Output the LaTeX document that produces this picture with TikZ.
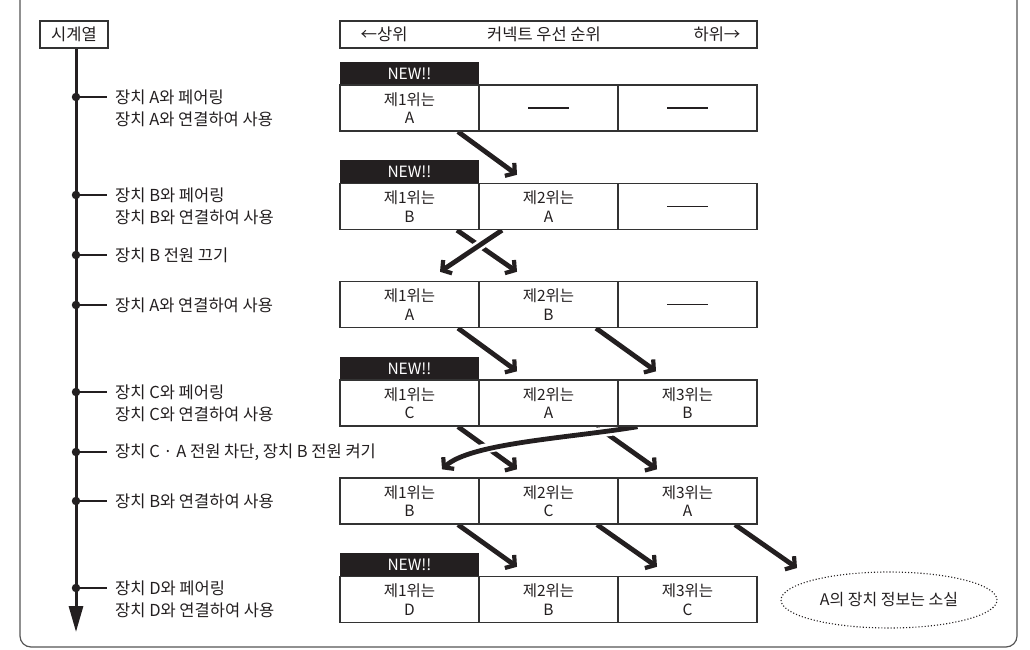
\documentclass[tikz,border=0pt]{standalone}
\usepackage{fontspec}
\setmainfont{Noto Sans CJK KR}
\usetikzlibrary{arrows.meta,shapes.geometric,calc}
\pgfdeclarelayer{bg}
\pgfsetlayers{bg,main}
\definecolor{txt}{HTML}{231F20}
\definecolor{cellc}{HTML}{333333}
\definecolor{framec}{HTML}{555555}
\begin{document}
\begin{tikzpicture}[x=1pt,y=-1pt,
  cell/.style={draw=cellc, fill=white, line width=1.4pt, minimum width=139pt, minimum height=46pt, inner sep=0pt, align=center, text=txt, font=\fontsize{15.5}{18.5}\selectfont},
  newtab/.style={fill=txt, minimum width=139pt, minimum height=23.5pt, inner sep=0pt, text=white, font=\fontsize{15.5}{17}\selectfont},
  lbl/.style={anchor=west, align=left, inner sep=0pt, text=txt, font=\fontsize{16.5}{22}\selectfont},
  hbox/.style={draw=cellc, line width=1.3pt, inner sep=0pt, minimum height=27pt, text=txt, font=\fontsize{16.5}{18}\selectfont},
  htext/.style={text=txt, inner sep=0pt, font=\fontsize{16.5}{18}\selectfont},
  tdot/.style={circle, fill=txt, inner sep=0pt, minimum size=8.5pt},
  tick/.style={draw=txt, line width=1.3pt},
  bigarrow/.style={draw=txt, line width=4.8pt, -{Straight Barb[length=6.5pt,width=16pt,line width=4.2pt]}},
  casing/.style={draw=white, line width=10pt, shorten <=8pt, shorten >=10pt},
  dashbar/.style={draw=txt, line width=1.4pt}
]
\useasboundingbox (0,0) rectangle (1030,650);
\draw[framec, line width=1.2pt, rounded corners=11pt] (20,-30) rectangle (1017,647);

% header boxes
\node[hbox, minimum width=68pt] (tl) at (74,34.5) {시계열};
\node[hbox, minimum width=417pt] (hdr) at (548.5,34.5) {};
\node[htext] (hup) at (384,34.5) {←상위};
\node[htext] (hmid) at (544,34.5) {커넥트 우선 순위};
\node[htext] (hdown) at (717,34.5) {하위→};

% timeline
\coordinate (tlend) at (76,632);
\draw[draw=txt, line width=3pt, -{Triangle[length=26pt,width=14pt]}] (tl.south -| tlend) -- (tlend);

% dots and labels
\node[tdot] (d1) at (76,97) {};
\node[tdot] (d2) at (76,195) {};
\node[tdot] (d3) at (76,255) {};
\node[tdot] (d4) at (76,305) {};
\node[tdot] (d5) at (76,392) {};
\node[tdot] (d6) at (76,452) {};
\node[tdot] (d7) at (76,501) {};
\node[tdot] (d8) at (76,588) {};
\foreach \d in {d1,d2,d3,d4,d5,d6,d7,d8} \draw[tick] (\d.center) -- ++(31,0);

\node[lbl] (l1) at (115,108) {장치 A와 페어링\\장치 A와 연결하여 사용};
\node[lbl] (l2) at (115,206) {장치 B와 페어링\\장치 B와 연결하여 사용};
\node[lbl] (l3) at (115,255) {장치 B 전원 끄기};
\node[lbl] (l4) at (115,305) {장치 A와 연결하여 사용};
\node[lbl] (l5) at (115,403) {장치 C와 페어링\\장치 C와 연결하여 사용};
\node[lbl] (l6) at (115,452) {장치 C · A 전원 차단, 장치 B 전원 켜기};
\node[lbl] (l7) at (115,501) {장치 B와 연결하여 사용};
\node[lbl] (l8) at (115,599) {장치 D와 페어링\\장치 D와 연결하여 사용};

% rows
\node[newtab] (n1) at (409.5,73.5) {NEW!!};
\node[cell] (r1c1) at (409.5,108) {제1위는\\A};
\node[cell] (r1c2) at (548.5,108) {};
\node[cell] (r1c3) at (687.5,108) {};

\node[newtab] (n2) at (409.5,172) {NEW!!};
\node[cell] (r2c1) at (409.5,206.5) {제1위는\\B};
\node[cell] (r2c2) at (548.5,206.5) {제2위는\\A};
\node[cell] (r2c3) at (687.5,206.5) {};

\node[cell] (r3c1) at (409.5,304.5) {제1위는\\A};
\node[cell] (r3c2) at (548.5,304.5) {제2위는\\B};
\node[cell] (r3c3) at (687.5,304.5) {};

\node[newtab] (n4) at (409.5,368.5) {NEW!!};
\node[cell] (r4c1) at (409.5,403) {제1위는\\C};
\node[cell] (r4c2) at (548.5,403) {제2위는\\A};
\node[cell] (r4c3) at (687.5,403) {제3위는\\B};

\node[cell] (r5c1) at (409.5,501) {제1위는\\B};
\node[cell] (r5c2) at (548.5,501) {제2위는\\C};
\node[cell] (r5c3) at (687.5,501) {제3위는\\A};

\node[newtab] (n6) at (409.5,565) {NEW!!};
\node[cell] (r6c1) at (409.5,599.5) {제1위는\\D};
\node[cell] (r6c2) at (548.5,599.5) {제2위는\\B};
\node[cell] (r6c3) at (687.5,599.5) {제3위는\\C};

% empty-cell dashes
\foreach \c in {r1c2,r1c3,r2c3,r3c3}
  \draw[dashbar] ([xshift=-20.5]\c.center) -- ([xshift=20.5]\c.center);

% lost info ellipse
\node[ellipse, draw=txt, line width=1.1pt, dotted, minimum width=216pt, minimum height=56pt, inner sep=0pt, text=txt, font=\fontsize{16}{18}\selectfont] (lost) at (889,600) {A의 장치 정보는 소실};

% arrows
\begin{pgfonlayer}{bg}
\draw[bigarrow] ([xshift=48.5]r1c1.south) -- ([shift={(-31.5,-8)}]r2c2.north);

\draw[bigarrow] ([xshift=47.5]r2c1.south) -- ([shift={(-31.5,-9)}]r3c2.north);
\draw[casing] ([xshift=-46.5]r2c2.south) -- ([shift={(30.5,-9)}]r3c1.north);
\draw[bigarrow] ([xshift=-46.5]r2c2.south) -- ([shift={(30.5,-9)}]r3c1.north);

\draw[bigarrow] ([xshift=48.5]r3c1.south) -- ([shift={(-31.5,-8)}]r4c2.north);
\draw[bigarrow] ([xshift=47.5]r3c2.south) -- ([shift={(-31.5,-8)}]r4c3.north);

\draw[bigarrow] ([xshift=48.5]r4c1.south) -- ([shift={(-31.5,-8)}]r5c2.north);
\draw[bigarrow] ([xshift=48.5]r4c2.south) -- ([shift={(-30.5,-8)}]r5c3.north);
\draw[casing] ([xshift=-50]r4c3.south) .. controls (570,438) and (470,443) .. ([shift={(32.5,-8)}]r5c1.north);
\draw[bigarrow] ([xshift=-50]r4c3.south) .. controls (570,438) and (470,443) .. ([shift={(32.5,-8)}]r5c1.north);

\draw[bigarrow] ([xshift=48.5]r5c1.south) -- ([shift={(-31.5,-9)}]r6c2.north);
\draw[bigarrow] ([xshift=48.5]r5c2.south) -- ([shift={(-30.5,-9)}]r6c3.north);
\coordinate (lostin) at (797,568);
\draw[bigarrow] ([xshift=47.5]r5c3.south) -- (lostin);
\end{pgfonlayer}
\end{tikzpicture}
\end{document}
